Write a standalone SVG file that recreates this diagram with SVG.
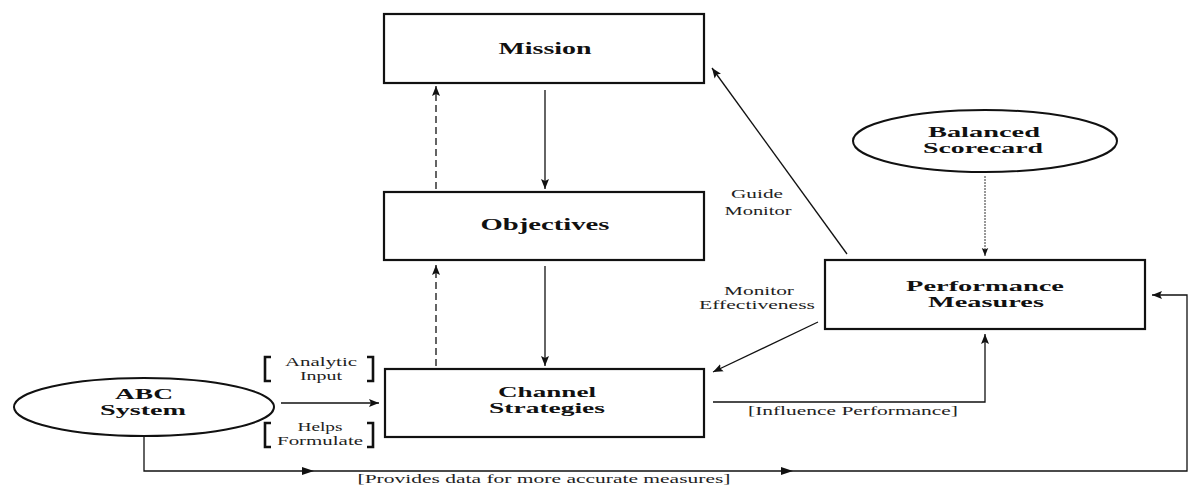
<svg xmlns="http://www.w3.org/2000/svg" width="1194" height="486" viewBox="0 0 1194 486">
  <style>
    .box { fill: #fff; stroke: #111; stroke-width: 2.2; }
    .oval { fill: #fff; stroke: #111; stroke-width: 2; }
    .lbl { font-family: "Liberation Serif", "Times New Roman", serif; font-weight: bold; font-size: 17px; fill: #111; text-anchor: middle; }
    .lbl2 { font-size: 15px; }
    .sm { font-family: "Liberation Serif", "Times New Roman", serif; font-size: 12px; fill: #222; text-anchor: middle; }
    .ln { fill: none; stroke: #111; stroke-width: 1.3; }
    .dash { stroke-dasharray: 7 4; }
    .dot { stroke-dasharray: 2 1; stroke: #333; stroke-width: 1; }
    .brk { fill: none; stroke: #111; stroke-width: 2.6; }
  </style>
  <defs>
    <marker id="ah" viewBox="0 0 10 10" refX="10" refY="5" markerWidth="10" markerHeight="10" markerUnits="userSpaceOnUse" orient="auto">
      <path d="M0,1 L10,5 L0,9 L2,5 Z" fill="#111"/>
    </marker>
    <marker id="ahS" viewBox="0 0 10 10" refX="10" refY="5" markerWidth="8" markerHeight="8" markerUnits="userSpaceOnUse" orient="auto">
      <path d="M0,1 L10,5 L0,9 L2,5 Z" fill="#111"/>
    </marker>
  </defs>

  <g id="connectors">
    <!-- Mission / Objectives / Channel Strategies spine -->
    <line class="ln" x1="545" y1="90" x2="545" y2="189" marker-end="url(#ah)"/>
    <line class="ln dash" x1="436" y1="189" x2="436" y2="86" marker-end="url(#ah)"/>
    <line class="ln" x1="545" y1="266" x2="545" y2="366" marker-end="url(#ah)"/>
    <line class="ln dash" x1="436" y1="366" x2="436" y2="265" marker-end="url(#ah)"/>
    <!-- ABC System into Channel Strategies -->
    <line class="ln" x1="281" y1="403" x2="379" y2="403" marker-end="url(#ah)"/>
    <!-- Performance Measures back to Mission and Channel Strategies -->
    <line class="ln" x1="847" y1="254" x2="712" y2="68" marker-end="url(#ah)"/>
    <line class="ln" x1="818" y1="322" x2="713" y2="372" marker-end="url(#ah)"/>
    <!-- Balanced Scorecard into Performance Measures -->
    <line class="ln dot" x1="985" y1="176" x2="985" y2="256" marker-end="url(#ahS)"/>
    <!-- Channel Strategies influence on Performance Measures -->
    <polyline class="ln" points="713,402 985,402 985,334" marker-end="url(#ah)"/>
    <!-- ABC System data feed round the bottom -->
    <polyline class="ln" points="144,437 144,471 1187,471 1187,295 1152,295" marker-end="url(#ah)"/>
    <path d="M302,467 L314,471 L302,475 Z" fill="#111"/>
    <path d="M781,467 L793,471 L781,475 Z" fill="#111"/>
  </g>

  <g id="mission">
    <rect class="box" x="384" y="14" width="320" height="69"/>
    <text class="lbl" x="545" y="54" textLength="93" lengthAdjust="spacingAndGlyphs">Mission</text>
  </g>

  <g id="objectives">
    <rect class="box" x="384" y="192" width="320" height="68"/>
    <text class="lbl" x="545" y="230" textLength="129" lengthAdjust="spacingAndGlyphs">Objectives</text>
  </g>

  <g id="channel-strategies">
    <rect class="box" x="385" y="369" width="319" height="68"/>
    <text class="lbl lbl2" x="547" y="397" textLength="98" lengthAdjust="spacingAndGlyphs">Channel</text>
    <text class="lbl lbl2" x="547" y="413" textLength="116" lengthAdjust="spacingAndGlyphs">Strategies</text>
  </g>

  <g id="performance-measures">
    <rect class="box" x="825" y="260" width="320" height="69"/>
    <text class="lbl lbl2" x="985" y="291" textLength="158" lengthAdjust="spacingAndGlyphs">Performance</text>
    <text class="lbl lbl2" x="986" y="307" textLength="116" lengthAdjust="spacingAndGlyphs">Measures</text>
  </g>

  <g id="balanced-scorecard">
    <ellipse class="oval" cx="985" cy="141" rx="132" ry="31"/>
    <text class="lbl lbl2" x="984" y="137" textLength="112" lengthAdjust="spacingAndGlyphs">Balanced</text>
    <text class="lbl lbl2" x="983" y="153" textLength="120" lengthAdjust="spacingAndGlyphs">Scorecard</text>
  </g>

  <g id="abc-system">
    <ellipse class="oval" cx="144" cy="407" rx="130" ry="29"/>
    <text class="lbl lbl2" x="144" y="399" textLength="58" lengthAdjust="spacingAndGlyphs">ABC</text>
    <text class="lbl lbl2" x="143" y="415" textLength="86" lengthAdjust="spacingAndGlyphs">System</text>
  </g>

  <g id="labels">
    <!-- bracketed notes on the ABC System arrow -->
    <path class="brk" d="M271,357 L265,357 L265,381 L271,381"/>
    <path class="brk" d="M367,357 L373,357 L373,381 L367,381"/>
    <text class="sm" x="321" y="366" textLength="72" lengthAdjust="spacingAndGlyphs">Analytic</text>
    <text class="sm" x="321" y="380" textLength="42" lengthAdjust="spacingAndGlyphs">Input</text>
    <path class="brk" d="M271,423 L265,423 L265,447 L271,447"/>
    <path class="brk" d="M367,423 L373,423 L373,447 L367,447"/>
    <text class="sm" x="320" y="431" textLength="45" lengthAdjust="spacingAndGlyphs">Helps</text>
    <text class="sm" x="320" y="445" textLength="86" lengthAdjust="spacingAndGlyphs">Formulate</text>

    <text class="sm" x="757" y="198" textLength="52" lengthAdjust="spacingAndGlyphs">Guide</text>
    <text class="sm" x="758" y="215" textLength="67" lengthAdjust="spacingAndGlyphs">Monitor</text>
    <text class="sm" x="759" y="295" textLength="70" lengthAdjust="spacingAndGlyphs">Monitor</text>
    <text class="sm" x="757" y="309" textLength="116" lengthAdjust="spacingAndGlyphs">Effectiveness</text>

    <text class="sm" x="853" y="415" textLength="210" lengthAdjust="spacingAndGlyphs">[Influence Performance]</text>
    <text class="sm" x="544" y="483" textLength="373" lengthAdjust="spacingAndGlyphs">[Provides data for more accurate measures]</text>
  </g>
</svg>
